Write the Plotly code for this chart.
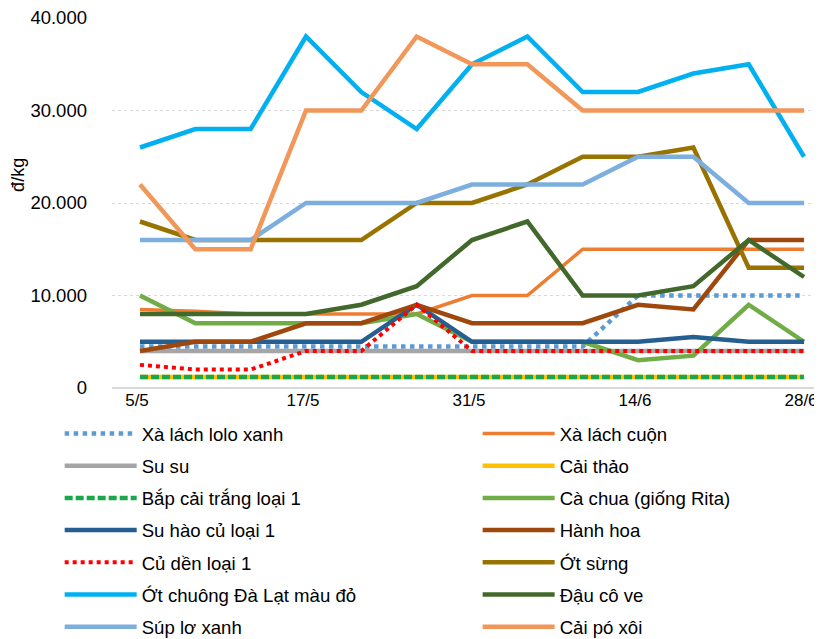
import plotly.graph_objects as go

dates = ["5/5", "8/5", "12/5", "17/5", "19/5", "24/5", "31/5", "2/6", "7/6", "14/6", "16/6", "21/6", "28/6"]
tick_idx = [0, 3, 6, 9, 12]
tick_labels = ["5/5", "17/5", "31/5", "14/6", "28/6"]

names = ["Xà lách lolo xanh", "Xà lách cuộn", "Su su", "Cải thảo", "Bắp cải trắng loại 1",
         "Cà chua (giống Rita)", "Su hào củ loại 1", "Hành hoa", "Củ dền loại 1", "Ớt sừng",
         "Ớt chuông Đà Lạt màu đỏ", "Đậu cô ve", "Súp lơ xanh", "Cải pó xôi"]

lolo_xanh = [4500, 4500, 4500, 4500, 4500, 4500, 4500, 4500, 4500, 10000, 10000, 10000, 10000]
xa_lach_cuon = [8500, 8300, 8000, 8000, 8000, 8000, 10000, 10000, 15000, 15000, 15000, 15000, 15000]
su_su = [4000] * 13
cai_thao = [1200] * 13
bap_cai = [1200] * 13
ca_chua = [10000, 7000, 7000, 7000, 7000, 8000, 5000, 5000, 5000, 3000, 3500, 9000, 5000]
su_hao = [5000, 5000, 5000, 5000, 5000, 9000, 5000, 5000, 5000, 5000, 5500, 5000, 5000]
hanh_hoa = [4000, 5000, 5000, 7000, 7000, 9000, 7000, 7000, 7000, 9000, 8500, 16000, 16000]
cu_den = [2500, 2000, 2000, 4000, 4000, 9000, 4000, 4000, 4000, 4000, 4000, 4000, 4000]
ot_sung = [18000, 16000, 16000, 16000, 16000, 20000, 20000, 22000, 25000, 25000, 26000, 13000, 13000]
ot_chuong = [26000, 28000, 28000, 38000, 32000, 28000, 35000, 38000, 32000, 32000, 34000, 35000, 25000]
dau_co_ve = [8000, 8000, 8000, 8000, 9000, 11000, 16000, 18000, 10000, 10000, 11000, 16000, 12000]
sup_lo = [16000, 16000, 16000, 20000, 20000, 20000, 22000, 22000, 22000, 25000, 25000, 20000, 20000]
cai_po_xoi = [22000, 15000, 15000, 30000, 30000, 38000, 35000, 35000, 30000, 30000, 30000, 30000, 30000]

values = [lolo_xanh, xa_lach_cuon, su_su, cai_thao, bap_cai, ca_chua, su_hao, hanh_hoa,
          cu_den, ot_sung, ot_chuong, dau_co_ve, sup_lo, cai_po_xoi]
colors = ["#5B9BD5", "#ED7D31", "#A5A5A5", "#FFC000", "#1AA64A", "#70AD47", "#255E91",
          "#9E480E", "#FF0000", "#997300", "#00B0F0", "#43682B", "#7CAFDD", "#F1975A"]
widths = [4.5, 3.5, 4.5, 4.5, 4.5, 4.5, 4.5, 4.5, 4, 4.5, 4.5, 4.5, 4.5, 4.5]
dashes = ["dot", "solid", "solid", "solid", "8px,3px", "solid", "solid", "solid", "dot",
          "solid", "solid", "solid", "solid", "solid"]

x = list(range(len(dates)))
fig = go.Figure()
for i, (n, v, c, w, d) in enumerate(zip(names, values, colors, widths, dashes)):
    fig.add_trace(go.Scatter(
        x=x, y=v, name=n, mode="lines",
        line=dict(color=c, width=w, dash=d),
        legend="legend" if i % 2 == 0 else "legend2",
        legendgroup=n,
        hovertext=[dates[k] for k in x],
    ))

legend_font = dict(family="Liberation Sans, Arial, sans-serif", size=18.6, color="#000000")
fig.update_layout(
    width=814, height=631,
    margin=dict(l=104, r=0, t=10, b=251, autoexpand=False),
    paper_bgcolor="white", plot_bgcolor="white",
    separators=",.",
    font=dict(family="Liberation Sans, Arial, sans-serif", size=18, color="#000000"),
    xaxis=dict(
        range=[-0.506, 12.325], tickmode="array", tickvals=tick_idx, ticktext=tick_labels,
        showgrid=False, zeroline=False, showline=False, ticks="",
        tickfont=dict(size=17), automargin=False, ticklabeloverflow="allow",
        ticklabelshift=-3,
    ),
    yaxis=dict(
        range=[0, 40000], tickvals=[0, 10000, 20000, 30000, 40000], tickformat=",d",
        showgrid=True, gridcolor="#D9D9D9", griddash="dot", gridwidth=1,
        zeroline=True, zerolinecolor="#D9D9D9", zerolinewidth=1.5,
        showline=False, ticks="", ticklabelstandoff=24,
        tickfont=dict(size=18.5), automargin=False, ticklabeloverflow="allow",
    ),
    annotations=[dict(text="đ/kg", xref="paper", yref="paper", x=0, y=0.576,
                      xanchor="center", yanchor="middle", xshift=-94, textangle=-90,
                      showarrow=False, font=dict(size=18))],
    legend=dict(x=-0.0737, y=-0.0729, xanchor="left", yanchor="top", orientation="v",
                font=legend_font, tracegroupgap=5, itemwidth=72, bgcolor="rgba(0,0,0,0)"),
    legend2=dict(x=0.515, y=-0.0729, xanchor="left", yanchor="top", orientation="v",
                 font=legend_font, tracegroupgap=5, itemwidth=72, bgcolor="rgba(0,0,0,0)"),
    showlegend=True,
)

fig.write_html("out.html")
